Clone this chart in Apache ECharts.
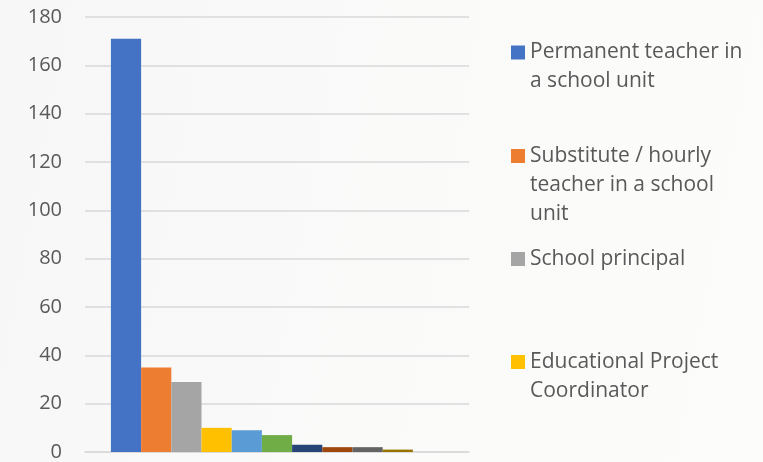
<!DOCTYPE html>
<html>
<head>
<meta charset="utf-8">
<script src="https://cdn.jsdelivr.net/npm/echarts@6/dist/echarts.min.js"></script>
<style>html,body{margin:0;padding:0;background:#f9faf9;}#c{width:763px;height:462px;}</style>
</head>
<body>
<div id="c"></div>
<script>
// Data
const categories = [""];
const seriesNames = [
  "Permanent teacher in a school unit",
  "Substitute / hourly teacher in a school unit",
  "School principal",
  "Educational Project Coordinator",
  "", "", "", "", "", "", ""
];
const seriesValues = [171, 35, 29, 10, 9, 7, 3, 2, 2, 1, 0];
const seriesColors = ["#4472C4", "#ED7D31", "#A5A5A5", "#FFC000", "#5B9BD5", "#70AD47", "#264478", "#9E480E", "#636363", "#997300", "#255E91"];
const legendLabels = [
  "Permanent teacher in\na school unit",
  "Substitute / hourly\nteacher in a school\nunit",
  "School principal",
  "Educational Project\nCoordinator"
];
const yTicks = { min: 0, max: 180, interval: 20 };

const LH = 29;
const legendCenters = [52.5, 156, 259, 362];
const legends = legendLabels.map((lab, i) => {
  const n = lab.split("\n").length;
  const H = n * LH;
  const sqTop = LH / 2 - 7;
  const path = "path://M0,0h0.01v0.01h-0.01z M0," + H + "h0.01v-0.01h-0.01z M0," + sqTop + "h14v14h-14z";
  return {
    data: [{ name: seriesNames[i], icon: path }],
    left: 511,
    top: legendCenters[i] - LH / 2,
    orient: "vertical",
    itemWidth: 14,
    itemHeight: H,
    padding: 0,
    selectedMode: false,
    formatter: () => lab,
    textStyle: { fontFamily: "Open Sans", fontSize: 21, color: "#595959", lineHeight: LH }
  };
});

const chart = echarts.init(document.getElementById("c"));
chart.setOption({
  animation: false,
  backgroundColor: {
    type: "linear", x: 0, y: 0, x2: 1, y2: 0.3,
    colorStops: [{ offset: 0, color: "#f6f7f6" }, { offset: 1, color: "#fcfcfb" }]
  },
  legend: legends,
  grid: { left: 85, top: 17, width: 384, height: 439 },
  xAxis: {
    type: "category",
    data: categories,
    axisLine: { show: true, lineStyle: { color: "#d9d9d9", width: 1.5 } },
    axisTick: { show: false },
    axisLabel: { show: false }
  },
  yAxis: {
    type: "value",
    min: yTicks.min, max: yTicks.max, interval: yTicks.interval,
    axisLine: { show: false },
    axisTick: { show: false },
    axisLabel: { fontFamily: "Open Sans", fontSize: 20, color: "#595959", margin: 23 },
    splitLine: { lineStyle: { color: "#d9d9d9", width: 1.5 } }
  },
  series: seriesValues.map((v, i) => ({
    type: "bar",
    name: seriesNames[i] || ("s" + i),
    data: [v],
    barGap: "0%",
    barCategoryGap: "13.5%",
    itemStyle: { color: seriesColors[i] }
  }))
});
</script>
</body>
</html>
